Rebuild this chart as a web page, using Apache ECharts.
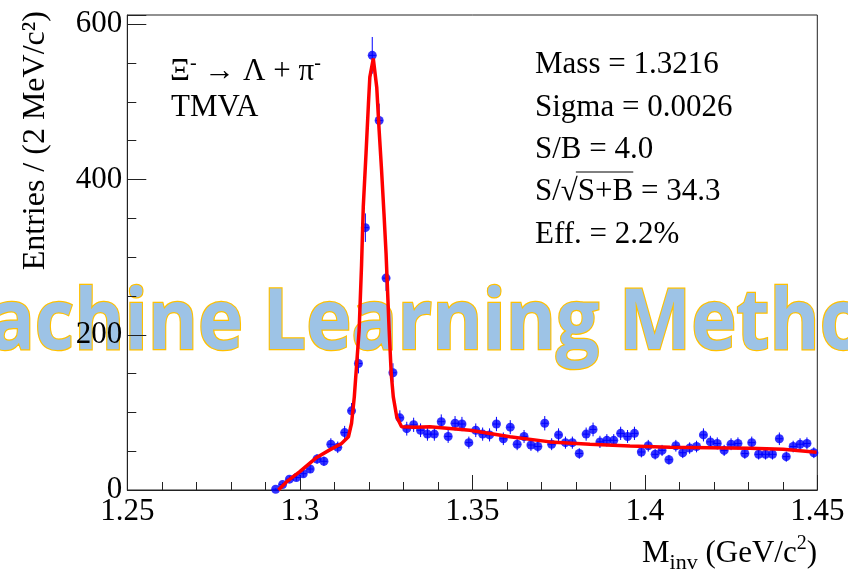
<!DOCTYPE html>
<html>
<head>
<meta charset="utf-8">
<script src="https://cdn.jsdelivr.net/npm/echarts@6/dist/echarts.min.js"></script>
<style>
  html, body { margin: 0; padding: 0; background: #ffffff; }
  #chart { width: 848px; height: 570px; }
</style>
</head>
<body>
<div id="chart"></div>
<script>
// Invariant-mass histogram (2 MeV bins): bin centres in GeV/c^2
const binCenters = [
  1.293, 1.295, 1.297, 1.299, 1.301, 1.303, 1.305, 1.307, 1.309, 1.311,
  1.313, 1.315, 1.317, 1.319, 1.321, 1.323, 1.325, 1.327, 1.329, 1.331,
  1.333, 1.335, 1.337, 1.339, 1.341, 1.343, 1.345, 1.347, 1.349, 1.351,
  1.353, 1.355, 1.357, 1.359, 1.361, 1.363, 1.365, 1.367, 1.369, 1.371,
  1.373, 1.375, 1.377, 1.379, 1.381, 1.383, 1.385, 1.387, 1.389, 1.391,
  1.393, 1.395, 1.397, 1.399, 1.401, 1.403, 1.405, 1.407, 1.409, 1.411,
  1.413, 1.415, 1.417, 1.419, 1.421, 1.423, 1.425, 1.427, 1.429, 1.431,
  1.433, 1.435, 1.437, 1.439, 1.441, 1.443, 1.445, 1.447, 1.449
];
// Entries per bin
const entries = [
  1, 7, 14, 16, 21, 27, 40, 37, 59, 55,
  74, 102, 163, 338, 560, 476, 273, 151, 93, 79,
  84, 77, 72, 72, 88, 69, 86, 85, 61, 77,
  72, 71, 85, 66, 81, 59, 69, 58, 56, 86,
  59, 71, 61, 61, 47, 72, 78, 62, 64, 64,
  73, 69, 73, 49, 57, 46, 51, 39, 57, 48,
  54, 56, 71, 62, 60, 51, 59, 60, 47, 61,
  46, 46, 46, 66, 43, 56, 59, 60, 48
];
// Fitted signal + background curve
const fitMass = [
  1.2938, 1.2962, 1.3000, 1.3049, 1.3088, 1.3121, 1.3141, 1.3150, 1.3158, 1.3165,
  1.3172, 1.3179, 1.3184, 1.3192, 1.3199, 1.3203, 1.3213, 1.3223, 1.3230, 1.3237,
  1.3244, 1.3250, 1.3259, 1.3265, 1.3271, 1.3281, 1.3295, 1.3334, 1.3377, 1.3493,
  1.3609, 1.3725, 1.3841, 1.3957, 1.4073, 1.4189, 1.4304, 1.4401, 1.4498
];
const fitEntries = [
  0, 10.7, 23.6, 42, 52, 60, 68.6, 86, 120, 163,
  206, 290, 365, 434, 498, 532, 556, 519, 463, 412,
  356, 305, 206, 150, 120, 94, 81.5, 80.7, 81.5, 77,
  68.6, 62, 59, 56.6, 55, 54.5, 53.7, 52.4, 48.5
];
// Axis tick labels
const xTickLabels = ['1.25', '1.3', '1.35', '1.4', '1.45'];
const yTickLabels = ['0', '200', '400', '600'];
// Fit summary
const statLines = ['Mass = 1.3216', 'Sigma = 0.0026', 'S/B = 4.0', 'S/\u221AS+B = 34.3', 'Eff. = 2.2%'];

const SERIF = '"Liberation Serif", "Times New Roman", serif';
const points = binCenters.map((m, i) => [m, entries[i], Math.sqrt(entries[i])]);
const fitLine = fitMass.map((m, i) => [m, fitEntries[i]]);

function textWidth(str, font) {
  const c = document.createElement('canvas').getContext('2d');
  c.font = font;
  return c.measureText(str).width;
}
function labelFor(list, v) {
  const hit = list.find(l => Math.abs(parseFloat(l) - v) < 1e-6);
  return hit === undefined ? '' : hit;
}

// Banner text: horizontally condensed so that "Learning" starts at x = 263
const bannerFont = 'bold 84px "Open Sans"';
const bannerScale = 0.91;
const bannerX = 263 - bannerScale * textWidth('Machine ', bannerFont);

// Overline of the square root in the S/sqrt(S+B) line
const statFont = '31px "Liberation Serif"';
const sqrtStart = 535 + textWidth('S/\u221A', statFont);
const sqrtEnd = 535 + textWidth('S/\u221AS+B', statFont);

const statY = [65, 107.5, 150, 192, 235];

const chart = echarts.init(document.getElementById('chart'), null, { renderer: 'canvas' });
chart.setOption({
  animation: false,
  backgroundColor: '#ffffff',
  grid: {
    left: 127.3, right: 30.7, top: 15, bottom: 80,
    show: true, borderColor: '#222', borderWidth: 1,
    backgroundColor: 'transparent',
    outerBoundsMode: 'none'
  },
  xAxis: {
    type: 'value', min: 1.25, max: 1.45, interval: 0.05,
    axisLine: { show: true, onZero: false, lineStyle: { color: '#222', width: 1 } },
    axisTick: { show: true, inside: true, length: 15, lineStyle: { color: '#222' } },
    minorTick: { show: true, splitNumber: 5, length: 8, lineStyle: { color: '#222' } },
    splitLine: { show: false },
    axisLabel: {
      margin: 6, color: '#000', fontFamily: SERIF, fontSize: 31,
      formatter: v => labelFor(xTickLabels, v)
    }
  },
  yAxis: [{
    type: 'value', min: 0, max: 612, interval: 200,
    axisLine: { show: true, lineStyle: { color: '#222', width: 1 } },
    axisTick: { show: true, inside: true, length: 19, lineStyle: { color: '#222' } },
    splitLine: { show: false },
    axisLabel: {
      margin: 5, color: '#000', fontFamily: SERIF, fontSize: 31,
      formatter: v => labelFor(yTickLabels, v)
    }
  }, {
    type: 'value', min: 0, max: 612, interval: 50, position: 'left',
    axisLine: { show: false },
    axisTick: { show: true, inside: true, length: 9, lineStyle: { color: '#222' } },
    axisLabel: { show: false },
    splitLine: { show: false }
  }],
  series: [{
    name: 'errors', type: 'custom', z: 2, clip: true,
    data: points,
    renderItem: (params, api) => {
      const m = api.value(0), n = api.value(1), e = api.value(2);
      const lo = api.coord([m, n - e]);
      const hi = api.coord([m, n + e]);
      const l = api.coord([m - 0.001, n]);
      const r = api.coord([m + 0.001, n]);
      return {
        type: 'group',
        children: [
          { type: 'line', shape: { x1: lo[0], y1: lo[1], x2: hi[0], y2: hi[1] }, style: { stroke: '#0000ff', lineWidth: 1 } },
          { type: 'line', shape: { x1: l[0], y1: l[1], x2: r[0], y2: r[1] }, style: { stroke: '#0000ff', lineWidth: 1 } }
        ]
      };
    }
  }, {
    name: 'data', type: 'scatter', z: 3,
    data: points.map(p => [p[0], p[1]]),
    symbol: 'circle', symbolSize: 9,
    itemStyle: { color: '#0000ff' }
  }, {
    name: 'fit', type: 'line', z: 4,
    data: fitLine, showSymbol: false, smooth: false,
    lineStyle: { color: '#ff0000', width: 3.5 }
  }],
  graphic: [
    {
      type: 'text', z: -10, x: bannerX, y: 325, scaleX: bannerScale,
      style: {
        text: 'Machine Learning Method', font: bannerFont,
        fill: '#9dc3e6', stroke: '#ffc000', lineWidth: 2.5,
        textAlign: 'left', textVerticalAlign: 'middle'
      }
    },
    {
      type: 'text', x: 36, y: 11, rotation: Math.PI / 2,
      style: {
        text: 'Entries / (2 MeV/c\u00B2)', font: '32px "Liberation Serif"', fill: '#000',
        textAlign: 'right', textVerticalAlign: 'middle'
      }
    },
    {
      type: 'text', x: 817, y: 554,
      style: {
        text: '{m|M}{s|inv}{m| (GeV/c}{p|2}{m|)}',
        textAlign: 'right', textVerticalAlign: 'middle', fill: '#000',
        rich: {
          m: { fontFamily: SERIF, fontSize: 31, lineHeight: 40, verticalAlign: 'middle', fill: '#000' },
          s: { fontFamily: SERIF, fontSize: 22, lineHeight: 22, verticalAlign: 'bottom', fill: '#000' },
          p: { fontFamily: SERIF, fontSize: 20, lineHeight: 20, verticalAlign: 'top', fill: '#000' }
        }
      }
    },
    {
      type: 'text', x: 170, y: 72,
      style: {
        text: '{m|\u039E}{p|-}{m| \u2192 \u039B + \u03C0}{p|-}',
        textAlign: 'left', textVerticalAlign: 'middle', fill: '#000',
        rich: {
          m: { fontFamily: SERIF, fontSize: 31, lineHeight: 36, verticalAlign: 'middle', fill: '#000' },
          p: { fontFamily: SERIF, fontSize: 20, lineHeight: 20, verticalAlign: 'top', fill: '#000' }
        }
      }
    },
    {
      type: 'text', x: 171, y: 108,
      style: { text: 'TMVA', font: statFont, fill: '#000', textAlign: 'left', textVerticalAlign: 'middle' }
    }
  ].concat(statLines.map((t, i) => ({
    type: 'text', x: 535, y: statY[i],
    style: { text: t, font: statFont, fill: '#000', textAlign: 'left', textVerticalAlign: 'middle' }
  }))).concat([{
    type: 'line', shape: { x1: sqrtStart - 2, y1: 172, x2: sqrtEnd, y2: 172 },
    style: { stroke: '#000', lineWidth: 1 }
  }])
});
</script>
</body>
</html>
